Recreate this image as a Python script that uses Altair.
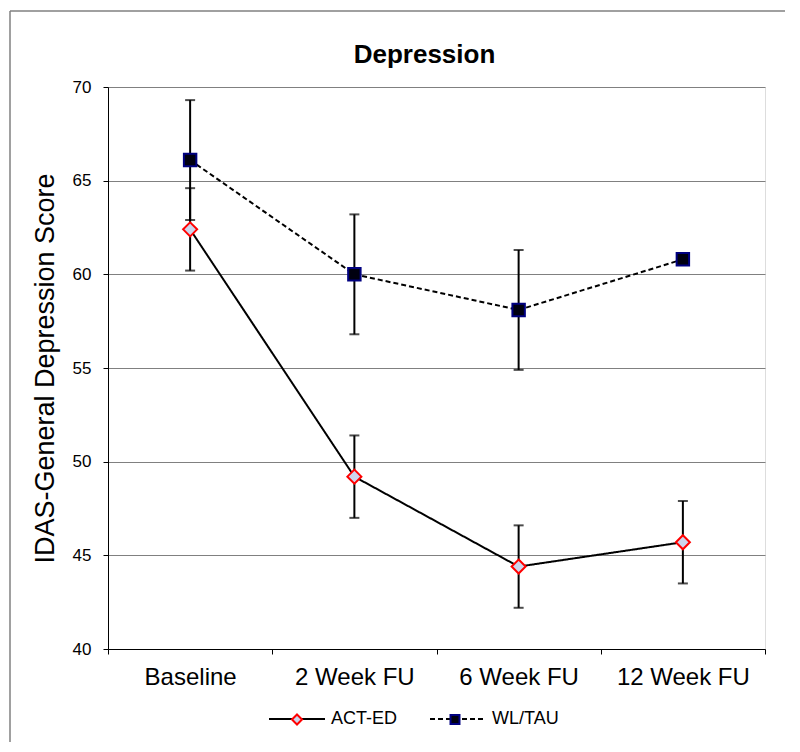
import altair as alt
import pandas as pd

categories = ["Baseline", "2 Week FU", "6 Week FU", "12 Week FU"]
series_names = ["ACT-ED", "WL/TAU"]
act_mean = [62.4, 49.2, 44.4, 45.7]
act_lo = [60.2, 47.0, 42.2, 43.5]
act_hi = [64.6, 51.4, 46.6, 47.9]
wl_mean = [66.1, 60.0, 58.1, 60.8]
wl_lo = [62.9, 56.8, 54.9, None]
wl_hi = [69.3, 63.2, 61.3, None]
y_ticks = [40, 45, 50, 55, 60, 65, 70]

rows = []
for name, m, lo, hi in [("ACT-ED", act_mean, act_lo, act_hi), ("WL/TAU", wl_mean, wl_lo, wl_hi)]:
    for c, a, b, d in zip(categories, m, lo, hi):
        rows.append({"cat": c, "series": name, "marker": name, "mean": a, "lo": b, "hi": d})
df = pd.DataFrame(rows)

FONT = "Liberation Sans"
diamond = "M0,-0.18L0.18,0L0,0.18L-0.18,0Z"
square = "M-0.16,-0.16H0.16V0.16H-0.16Z"

LEG_X = 160
LEG_Y = 603
leg_common = dict(orient="none", direction="horizontal", legendX=LEG_X, legendY=LEG_Y,
                  title=None, symbolSize=3136, labelFontSize=18, labelFont=FONT,
                  labelColor="black", labelOffset=5)
# marker legend: empty labels, padding so the second marker sits on the second line symbol
leg_marker = dict(leg_common, labelExpr="''", columnPadding=95, symbolStrokeWidth=2)

x_enc = alt.X("cat:N", sort=categories,
              scale=alt.Scale(type="band", domain=categories, paddingInner=0, paddingOuter=0),
              axis=alt.Axis(title=None, labelAngle=0, labelFontSize=24, labelFont=FONT,
                            labelColor="black", tickBand="extent", tickColor="black",
                            tickSize=5, labelPadding=11, domainColor="black", grid=False))
y_scale = alt.Scale(domain=[40, 70], nice=False, zero=False)

base = alt.Chart(df)

err = base.mark_rule(color="black", strokeWidth=2).encode(
    x=x_enc,
    y=alt.Y("lo:Q", scale=y_scale,
            axis=alt.Axis(values=y_ticks, title="IDAS-General Depression Score",
                          titleFontSize=27, titleFont=FONT, titleFontWeight="normal",
                          titleColor="black", titleAngle=270, titleX=-55, titleY=281,
                          titleAlign="center", titleBaseline="alphabetic",
                          labelFontSize=17, labelFont=FONT, labelColor="black",
                          tickColor="black", tickSize=5, labelPadding=12,
                          domainColor="black", gridColor="#808080", gridWidth=1)),
    y2="hi:Q",
)
cap_lo = base.mark_tick(color="black", thickness=2, size=10, orient="horizontal").encode(
    x=x_enc, y=alt.Y("lo:Q", scale=y_scale))
cap_hi = base.mark_tick(color="black", thickness=2, size=10, orient="horizontal").encode(
    x=x_enc, y=alt.Y("hi:Q", scale=y_scale))

lines = base.mark_line(color="black", strokeWidth=2).encode(
    x=x_enc,
    y=alt.Y("mean:Q", scale=y_scale),
    strokeDash=alt.StrokeDash("series:N",
                              scale=alt.Scale(range=[[1, 0], [5, 3]]),
                              legend=alt.Legend(symbolType="stroke", symbolStrokeColor="black",
                                                symbolStrokeWidth=2, columnPadding=28,
                                                **leg_common)),
)

points = base.mark_point(filled=True, size=6050, strokeWidth=2, opacity=1).encode(
    x=x_enc,
    y=alt.Y("mean:Q", scale=y_scale),
    shape=alt.Shape("marker:N", scale=alt.Scale(range=[diamond, square]),
                    legend=alt.Legend(**leg_marker)),
    fill=alt.Fill("marker:N", scale=alt.Scale(range=["#cdd5ec", "#000010"]),
                  legend=alt.Legend(**leg_marker)),
    stroke=alt.Stroke("marker:N", scale=alt.Scale(range=["#ff0000", "#000080"]),
                      legend=alt.Legend(**leg_marker)),
)

frame_df = pd.DataFrame({"k": [0]})
fb = alt.Chart(frame_df)
frame_left = fb.mark_rule(color="#808080", strokeWidth=1.5).encode(
    x=alt.value(-98), y=alt.value(-76), y2=alt.value(655))
frame_top = fb.mark_rule(color="#808080", strokeWidth=1.5).encode(
    x=alt.value(-98), x2=alt.value(682), y=alt.value(-76))
frame_right = fb.mark_rule(color="#808080", strokeWidth=1.5).encode(
    x=alt.value(682), y=alt.value(-76), y2=alt.value(655))

chart = alt.layer(err, cap_lo, cap_hi, lines, points, frame_left, frame_top, frame_right).resolve_scale(
    strokeDash="independent", shape="independent", fill="independent", stroke="independent"
).properties(
    width=657, height=562,
    title=alt.Title("Depression", fontSize=26, fontWeight="bold", font=FONT, color="black",
                    anchor="middle", dx=-12, offset=0, dy=58),
    padding={"left": 100, "top": 79, "right": 20, "bottom": 95},
    autosize=alt.AutoSizeParams(type="none"),
).configure_view(stroke="#808080", strokeWidth=1.5).configure(font=FONT)

chart.save("out.html", embed_options={"renderer": "svg", "actions": False})
